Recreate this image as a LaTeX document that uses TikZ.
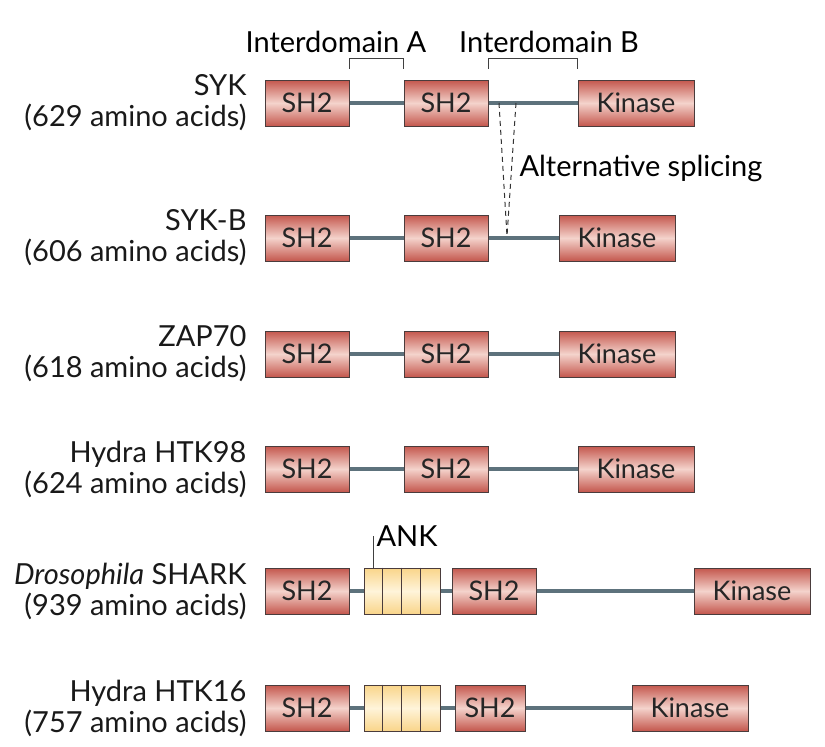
\documentclass[tikz,border=0pt]{standalone}
\usepackage{fontspec}
\setmainfont{Lato}
\usepackage{tikz}
\usetikzlibrary{positioning,calc}

\definecolor{domred}{HTML}{C4574D}
\definecolor{domlight}{HTML}{F4D3CC}
\definecolor{ankdark}{HTML}{F9D58A}
\definecolor{anklight}{HTML}{FFF4DA}
\definecolor{linkgray}{HTML}{5D727C}
\definecolor{edgegray}{HTML}{4A3C3C}

\newcommand{\lblfont}{\fontsize{29}{31}\selectfont}
\newcommand{\boxfont}{\fontsize{27}{30}\selectfont}

\tikzset{
  dom/.style={draw=edgegray, line width=1pt, minimum height=46pt, inner sep=0pt,
              top color=domred, bottom color=domred, middle color=domlight,
              text=black!85, font=\boxfont},
  sh2/.style={dom, minimum width=84pt},
  kin/.style={dom, minimum width=116pt},
  ank/.style={draw=edgegray, line width=1pt, minimum height=46pt, minimum width=76pt,
              inner sep=0pt, top color=ankdark, bottom color=ankdark, middle color=anklight},
  link/.style={line width=4pt, color=linkgray},
  lbl/.style={anchor=east, align=right, font=\lblfont, text=black!90},
  bracket/.style={line width=1pt, color=black!75},
  splice/.style={line width=1pt, dash pattern=on 5pt off 4pt, color=black!80}
}

\begin{document}
\begin{tikzpicture}[x=1pt,y=-1pt]
  \useasboundingbox (0,0) rectangle (825,747);

  % SYK
  \node[lbl] (sykname) at (250,103) {SYK\\(629 amino acids)};
  \node[sh2] (syk1) at (307,103) {SH2};
  \node[sh2] (syk2) at (446,103) {SH2};
  \node[kin] (syk3) at (636,103) {Kinase};
  \draw[link] (syk1) -- (syk2);
  \draw[link] (syk2) -- (syk3);

  % interdomains
  \node[font=\lblfont] (ida) at (336,42) {Interdomain A};
  \node[font=\lblfont] (idb) at (549,42) {Interdomain B};
  \draw[bracket] ([yshift=11pt]syk1.north east) -- ([yshift=21pt]syk1.north east)
                 -- ([yshift=21pt]syk2.north west) -- ([yshift=11pt]syk2.north west);
  \draw[bracket] ([yshift=11pt]syk2.north east) -- ([yshift=21pt]syk2.north east)
                 -- ([yshift=21pt]syk3.north west) -- ([yshift=11pt]syk3.north west);

  % SYK-B
  \node[lbl] (sykbname) at (250,238) {SYK-B\\(606 amino acids)};
  \node[sh2] (sykb1) at (307,238) {SH2};
  \node[sh2] (sykb2) at (446,238) {SH2};
  \node[kin] (sykb3) at (617,238) {Kinase};
  \draw[link] (sykb1) -- (sykb2);
  \draw[link] (sykb2) -- (sykb3);

  % splicing
  \coordinate (cut1) at (499,103);
  \coordinate (cut2) at (516,103);
  \coordinate (join) at (507,236);
  \draw[splice] (cut1) -- (join);
  \draw[splice] (cut2) -- (join);
  \node[font=\lblfont, anchor=west] (splicing) at (516,168) {Alternative splicing};

  % ZAP70
  \node[lbl] (zapname) at (250,354) {ZAP70\\(618 amino acids)};
  \node[sh2] (zap1) at (307,354) {SH2};
  \node[sh2] (zap2) at (446,354) {SH2};
  \node[kin] (zap3) at (617,354) {Kinase};
  \draw[link] (zap1) -- (zap2);
  \draw[link] (zap2) -- (zap3);

  % Hydra HTK98
  \node[lbl] (htkaname) at (250,469) {Hydra HTK98\\(624 amino acids)};
  \node[sh2] (htka1) at (307,469) {SH2};
  \node[sh2] (htka2) at (446,469) {SH2};
  \node[kin] (htka3) at (636,469) {Kinase};
  \draw[link] (htka1) -- (htka2);
  \draw[link] (htka2) -- (htka3);

  % Drosophila SHARK
  \node[lbl] (sharkname) at (250,591) {\textit{Drosophila} SHARK\\(939 amino acids)};
  \node[sh2] (shark1) at (307,591) {SH2};
  \node[ank] (shark2) at (402,591) {};
  \node[sh2] (shark3) at (494,591) {SH2};
  \node[kin] (shark4) at (752,591) {Kinase};
  \draw[link] (shark1) -- (shark2);
  \draw[link] (shark2) -- (shark3);
  \draw[link] (shark3) -- (shark4);
  \foreach \k in {1,2,3}
    \draw[line width=1pt, color=edgegray] ([xshift=\k*19pt]shark2.north west) -- ([xshift=\k*19pt]shark2.south west);
  \node[font=\lblfont, anchor=west] (anklbl) at (373,536) {ANK};
  \draw[bracket] ([xshift=10pt]shark2.north west) -- ([xshift=10pt]shark2.north west |- anklbl.center);

  % Hydra HTK16
  \node[lbl] (htkbname) at (250,708) {Hydra HTK16\\(757 amino acids)};
  \node[sh2] (htkb1) at (307,708) {SH2};
  \node[ank] (htkb2) at (402,708) {};
  \node[sh2, minimum width=70pt] (htkb3) at (490,708) {SH2};
  \node[kin] (htkb4) at (690,708) {Kinase};
  \draw[link] (htkb1) -- (htkb2);
  \draw[link] (htkb2) -- (htkb3);
  \draw[link] (htkb3) -- (htkb4);
  \foreach \k in {1,2,3}
    \draw[line width=1pt, color=edgegray] ([xshift=\k*19pt]htkb2.north west) -- ([xshift=\k*19pt]htkb2.south west);
\end{tikzpicture}
\end{document}
